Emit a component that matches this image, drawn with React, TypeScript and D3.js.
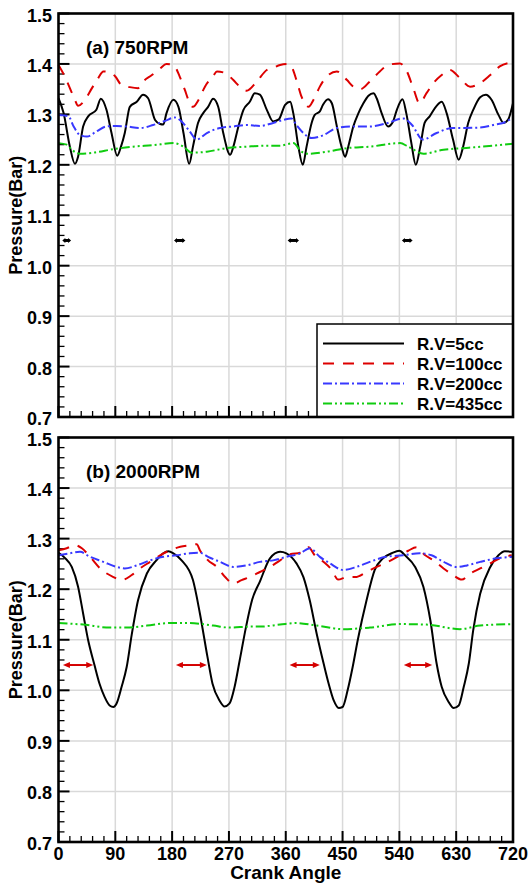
import React from 'react';
import * as d3 from 'd3';

// ---------- DATA ----------
const xTickValues = [0, 90, 180, 270, 360, 450, 540, 630, 720];
const yTickValues = [0.7, 0.8, 0.9, 1.0, 1.1, 1.2, 1.3, 1.4, 1.5];
const seriesNames = ['R.V=5cc', 'R.V=100cc', 'R.V=200cc', 'R.V=435cc'];
const panelTitles = ['(a) 750RPM', '(b) 2000RPM'];

// (a) 750 RPM  [crank angle, pressure]
const a5cc: [number, number][] = [[0,1.332],[8,1.303],[18,1.236],[26,1.202],[31,1.216],[39,1.276],[47,1.296],[60,1.309],[67,1.331],[76,1.309],[84,1.263],[93,1.218],[99,1.236],[105,1.263],[113,1.315],[124,1.325],[134,1.339],[142,1.332],[153,1.289],[161,1.281],[166,1.28],[171,1.302],[182,1.329],[190,1.315],[198,1.263],[207,1.202],[213,1.236],[221,1.283],[229,1.302],[237,1.315],[245,1.331],[253,1.315],[261,1.263],[272,1.22],[277,1.236],[285,1.276],[293,1.309],[303,1.325],[311,1.342],[319,1.339],[330,1.309],[340,1.286],[349,1.29],[359,1.319],[367,1.325],[372,1.302],[380,1.236],[387,1.2],[393,1.236],[401,1.283],[406,1.299],[414,1.306],[419,1.319],[427,1.33],[433,1.322],[441,1.276],[449,1.233],[454,1.216],[459,1.236],[467,1.276],[475,1.302],[483,1.322],[491,1.337],[499,1.342],[504,1.332],[512,1.302],[522,1.276],[530,1.286],[536,1.309],[545,1.33],[551,1.302],[559,1.243],[566,1.2],[573,1.236],[580,1.283],[588,1.296],[599,1.317],[607,1.325],[615,1.302],[625,1.25],[634,1.21],[641,1.236],[649,1.283],[657,1.309],[668,1.334],[677,1.339],[686,1.329],[697,1.299],[705,1.283],[712,1.289],[720,1.322]];
const a100cc: [number, number][] = [[0,1.398],[10,1.375],[18,1.352],[26,1.329],[31,1.317],[42,1.329],[53,1.352],[63,1.372],[71,1.385],[84,1.382],[90,1.375],[100,1.358],[113,1.354],[126,1.352],[134,1.365],[148,1.378],[161,1.391],[171,1.4],[182,1.398],[192,1.375],[200,1.349],[207,1.325],[213,1.315],[222,1.329],[232,1.355],[245,1.376],[251,1.385],[264,1.382],[277,1.368],[288,1.354],[298,1.347],[314,1.365],[330,1.388],[340,1.392],[351,1.398],[364,1.4],[369,1.395],[377,1.368],[385,1.335],[396,1.315],[404,1.329],[414,1.355],[425,1.375],[441,1.385],[457,1.368],[467,1.355],[478,1.35],[493,1.365],[509,1.385],[522,1.398],[541,1.401],[552,1.385],[562,1.352],[572,1.322],[583,1.342],[594,1.362],[607,1.378],[620,1.388],[636,1.372],[652,1.355],[668,1.362],[684,1.378],[699,1.395],[718,1.403]];
const a200cc: [number, number][] = [[0,1.299],[8,1.298],[16,1.296],[24,1.276],[34,1.259],[45,1.256],[60,1.266],[76,1.276],[92,1.277],[108,1.276],[129,1.273],[150,1.279],[171,1.288],[184,1.294],[195,1.286],[208,1.266],[219,1.25],[235,1.263],[256,1.273],[277,1.276],[298,1.279],[319,1.277],[340,1.283],[356,1.289],[369,1.292],[377,1.279],[388,1.263],[401,1.253],[420,1.259],[441,1.273],[467,1.276],[493,1.276],[522,1.283],[546,1.292],[560,1.279],[577,1.25],[599,1.263],[625,1.273],[641,1.273],[668,1.274],[689,1.279],[710,1.286],[720,1.294]];
const a435cc: [number, number][] = [[0,1.243],[13,1.24],[21,1.23],[34,1.222],[55,1.224],[87,1.231],[118,1.236],[150,1.239],[182,1.243],[198,1.236],[211,1.224],[235,1.226],[266,1.233],[298,1.236],[330,1.238],[351,1.238],[372,1.243],[385,1.226],[396,1.222],[425,1.226],[456,1.233],[493,1.236],[541,1.243],[554,1.236],[578,1.222],[610,1.23],[641,1.233],[689,1.238],[720,1.242]];

// (b) 2000 RPM
const b5cc: [number, number][] = [[0,1.272],[10,1.262],[21,1.244],[31,1.205],[39,1.152],[47,1.099],[57,1.05],[65,1.013],[73,0.987],[81,0.97],[87,0.967],[92,0.974],[100,1.007],[108,1.046],[116,1.11],[126,1.178],[140,1.231],[155,1.257],[166,1.271],[174,1.275],[182,1.271],[195,1.257],[213,1.218],[224,1.152],[236,1.066],[244,1.013],[255,0.98],[263,0.968],[271,0.974],[279,1.007],[287,1.059],[297,1.125],[307,1.18],[319,1.215],[335,1.261],[351,1.274],[361,1.271],[377,1.251],[388,1.224],[398,1.178],[409,1.112],[420,1.053],[428,1.013],[436,0.98],[444,0.965],[450,0.967],[458,1.0],[466,1.046],[474,1.099],[488,1.178],[501,1.238],[514,1.261],[528,1.271],[540,1.276],[549,1.267],[565,1.244],[578,1.205],[589,1.139],[599,1.053],[607,1.007],[618,0.977],[626,0.965],[634,0.97],[642,1.007],[650,1.053],[657,1.119],[668,1.191],[684,1.244],[697,1.267],[707,1.275],[720,1.274]];
const b100cc: [number, number][] = [[0,1.277],[13,1.281],[26,1.287],[37,1.281],[50,1.264],[66,1.241],[87,1.224],[100,1.218],[116,1.228],[129,1.241],[145,1.254],[161,1.267],[177,1.277],[193,1.284],[208,1.287],[219,1.289],[224,1.277],[237,1.257],[251,1.244],[264,1.224],[277,1.211],[290,1.218],[303,1.224],[319,1.234],[335,1.244],[351,1.257],[367,1.269],[383,1.272],[396,1.283],[406,1.267],[420,1.254],[433,1.238],[443,1.219],[457,1.224],[470,1.224],[488,1.234],[504,1.244],[522,1.254],[541,1.267],[554,1.276],[567,1.283],[581,1.267],[594,1.257],[610,1.241],[625,1.228],[639,1.219],[652,1.231],[668,1.241],[684,1.251],[699,1.261],[718,1.267]];
const b200cc: [number, number][] = [[0,1.267],[18,1.271],[34,1.274],[50,1.264],[71,1.254],[92,1.244],[105,1.241],[124,1.247],[145,1.257],[166,1.264],[187,1.267],[208,1.271],[224,1.272],[237,1.264],[256,1.254],[277,1.244],[298,1.247],[319,1.254],[340,1.257],[361,1.264],[383,1.271],[398,1.281],[414,1.264],[430,1.251],[451,1.238],[472,1.244],[493,1.254],[519,1.264],[546,1.267],[572,1.271],[591,1.267],[610,1.254],[631,1.244],[647,1.247],[668,1.254],[694,1.261],[720,1.264]];
const b435cc: [number, number][] = [[0,1.133],[39,1.13],[81,1.124],[108,1.124],[140,1.128],[177,1.133],[208,1.133],[245,1.128],[272,1.124],[303,1.126],[319,1.126],[351,1.13],[377,1.133],[409,1.128],[451,1.121],[493,1.124],[541,1.131],[583,1.13],[636,1.121],[668,1.128],[720,1.131]];

// double-headed arrows at P = 1.05 [start angle, end angle]
const arrowLevel = 1.05;
const arrowsA: [number, number][] = [[6, 20], [183, 201], [363, 381], [544, 561]];
const arrowsB: [number, number][] = [[7, 55], [186, 235], [366, 414], [547, 592]];

// ---------- STYLE ----------
const FONT = '"Liberation Sans", Arial, Helvetica, sans-serif';
const seriesStyles = [
  { color: '#000000', dash: '' },
  { color: '#dd0000', dash: '11,9' },
  { color: '#3838ff', dash: '9,3,2,3' },
  { color: '#10cc10', dash: '9,3,2,3,2,3' },
];

const X0 = 58.5, X1 = 513;
const panelBoxes = [
  { top: 13.5, bottom: 417 },
  { top: 437.5, bottom: 842 },
];

const xScale = d3.scaleLinear().domain([0, 720]).range([X0, X1]);

function Arrow({ x1, x2, y, color, head, hw, sw }: any) {
  return (
    <g>
      <line x1={x1 + head * 0.6} x2={x2 - head * 0.6} y1={y} y2={y} stroke={color} strokeWidth={sw} />
      <polygon points={`${x1},${y} ${x1 + head},${y - hw} ${x1 + head},${y + hw}`} fill={color} />
      <polygon points={`${x2},${y} ${x2 - head},${y - hw} ${x2 - head},${y + hw}`} fill={color} />
    </g>
  );
}

function Panel({ idx, data, arrows, arrowColor, showXLabels, showLegend }: any) {
  const { top, bottom } = panelBoxes[idx];
  const y = d3.scaleLinear().domain([0.7, 1.5]).range([bottom, top]);
  const line = d3.line<[number, number]>().x(d => xScale(d[0])).y(d => y(d[1])).curve(d3.curveMonotoneX);
  const minorX = d3.range(0, 721, 18).filter(v => v % 90 !== 0);
  const minorY = d3.range(0, 41).map(i => 0.7 + i * 0.02).filter((v, i) => i % 5 !== 0);
  const title = panelTitles[idx];
  return (
    <g>
      {/* grid */}
      {xTickValues.slice(1, -1).map(v => (
        <line key={'gx' + v} x1={xScale(v)} x2={xScale(v)} y1={top} y2={bottom} stroke="#d9d9d9" strokeWidth={1.5} />
      ))}
      {yTickValues.slice(1, -1).map(v => (
        <line key={'gy' + v} x1={X0} x2={X1} y1={y(v)} y2={y(v)} stroke="#d9d9d9" strokeWidth={1.5} />
      ))}
      {/* ticks */}
      {minorX.map(v => (
        <line key={'mx' + v} x1={xScale(v)} x2={xScale(v)} y1={bottom} y2={bottom - 6} stroke="#000" strokeWidth={1.3} />
      ))}
      {xTickValues.map(v => (
        <line key={'Mx' + v} x1={xScale(v)} x2={xScale(v)} y1={bottom} y2={bottom - 11} stroke="#000" strokeWidth={2} />
      ))}
      {minorY.map(v => (
        <line key={'my' + v} x1={X0} x2={X0 + 6} y1={y(v)} y2={y(v)} stroke="#000" strokeWidth={1.3} />
      ))}
      {yTickValues.map(v => (
        <line key={'My' + v} x1={X0} x2={X0 + 11} y1={y(v)} y2={y(v)} stroke="#000" strokeWidth={2} />
      ))}
      {/* series */}
      {data.map((d: [number, number][], i: number) => (
        <path key={'s' + i} d={line(d) || ''} fill="none" stroke={seriesStyles[i].color}
          strokeWidth={2} strokeDasharray={seriesStyles[i].dash || undefined} strokeLinejoin="round" />
      ))}
      {/* arrows */}
      {arrows.map((a: [number, number], i: number) => (
        <Arrow key={'ar' + i} x1={xScale(a[0])} x2={xScale(a[1])} y={y(arrowLevel)} color={arrowColor}
          head={idx === 0 ? 3 : 7} hw={idx === 0 ? 2.5 : 3} sw={idx === 0 ? 3 : 2} />
      ))}
      {/* legend */}
      {showLegend && (
        <g>
          <rect x={317} y={324} width={X1 - 317} height={bottom - 324} fill="#fff" stroke="#000" strokeWidth={1.5} />
          {seriesNames.map((n, i) => {
            const cy = 343.5 + i * 20;
            return (
              <g key={'lg' + i}>
                <line x1={323} x2={404} y1={cy} y2={cy} stroke={seriesStyles[i].color} strokeWidth={2}
                  strokeDasharray={seriesStyles[i].dash || undefined} />
                <text x={417} y={cy + 6} fontFamily={FONT} fontWeight="bold" fontSize={17}>{n}</text>
              </g>
            );
          })}
        </g>
      )}
      {/* frame */}
      <rect x={X0} y={top} width={X1 - X0} height={bottom - top} fill="none" stroke="#000" strokeWidth={2.6} />
      {/* y tick labels */}
      {yTickValues.map(v => (
        <text key={'ly' + v} x={52} y={y(v) + 8} textAnchor="end" fontFamily={FONT} fontWeight="bold" fontSize={18}>{v.toFixed(1)}</text>
      ))}
      {showXLabels && xTickValues.map(v => (
        <text key={'lx' + v} x={xScale(v)} y={859.5} textAnchor="middle" fontFamily={FONT} fontWeight="bold" fontSize={18}>{v}</text>
      ))}
      {showXLabels && (
        <text x={(X0 + X1) / 2} y={879} textAnchor="middle" fontFamily={FONT} fontWeight="bold" fontSize={19}>Crank Angle</text>
      )}
      <text transform={`translate(21.5,${(top + bottom) / 2}) rotate(-90)`} textAnchor="middle" fontFamily={FONT} fontWeight="bold" fontSize={18}>Pressure(Bar)</text>
      <text x={86} y={top + 40} fontFamily={FONT} fontWeight="bold" fontSize={19}>{title}</text>
    </g>
  );
}

export default function App() {
  return (
    <svg width={529} height={883} style={{ position: 'absolute', left: 0, top: 0, background: '#fff' }}>
      <rect x={0} y={0} width={529} height={883} fill="#fff" />
      <Panel idx={0} data={[a5cc, a100cc, a200cc, a435cc]} arrows={arrowsA} arrowColor="#000" showXLabels={false} showLegend={true} />
      <Panel idx={1} data={[b5cc, b100cc, b200cc, b435cc]} arrows={arrowsB} arrowColor="#d40000" showXLabels={true} showLegend={false} />
    </svg>
  );
}
